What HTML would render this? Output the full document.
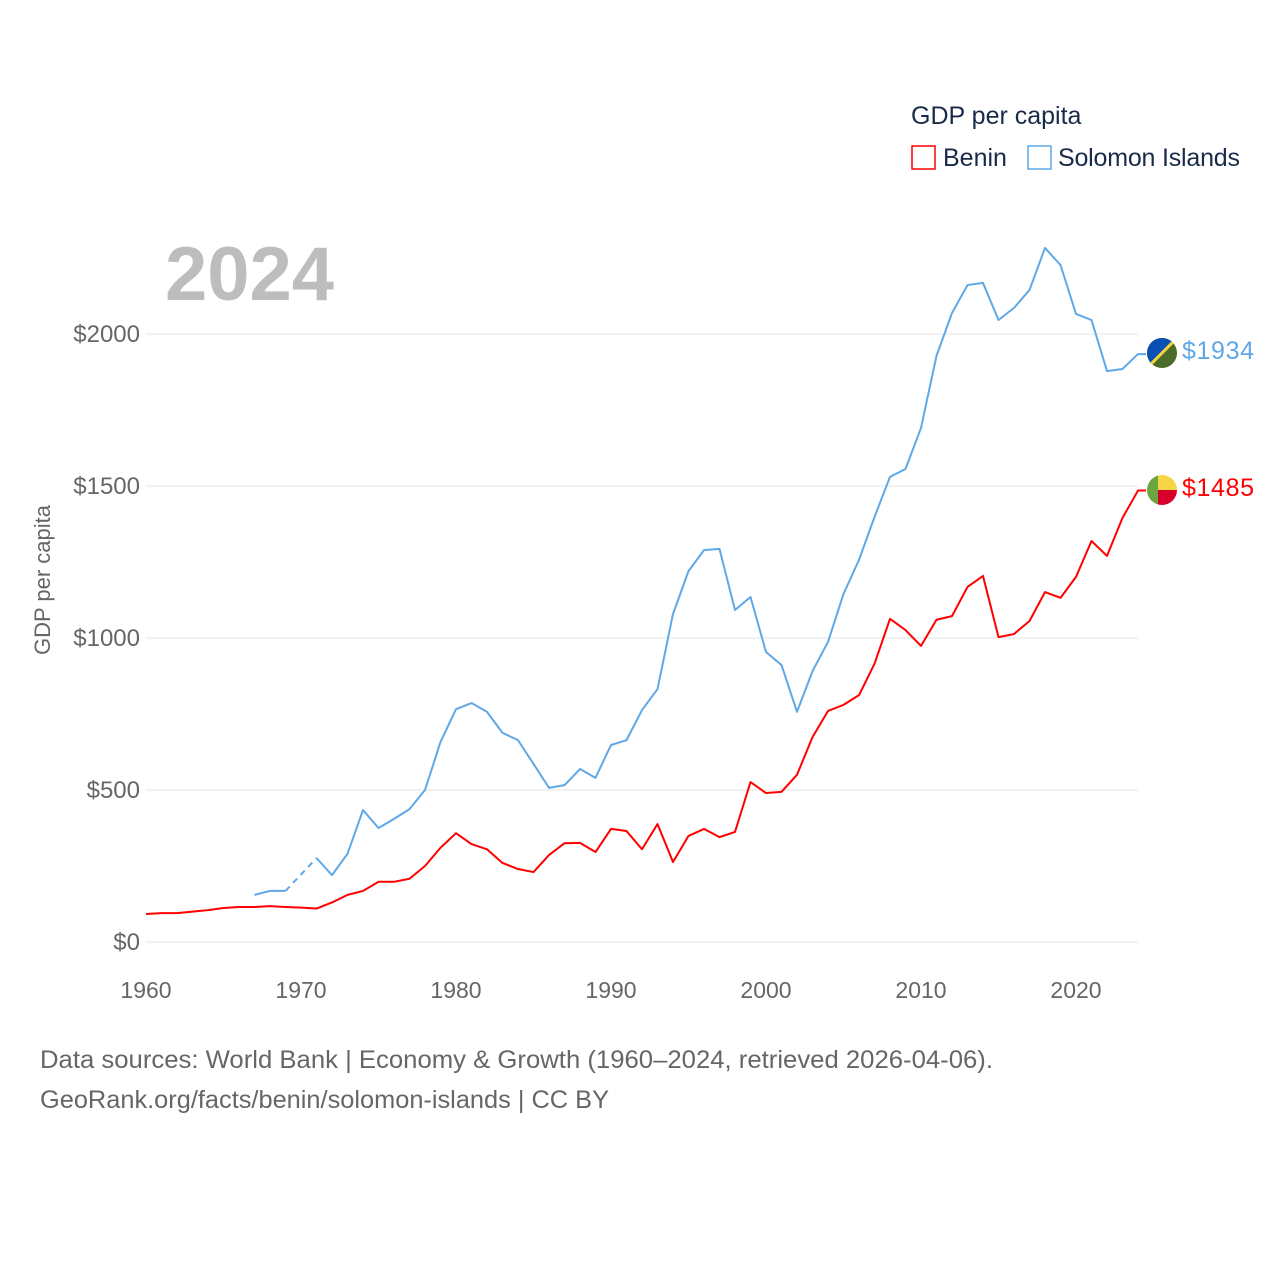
<!DOCTYPE html>
<html><head><meta charset="utf-8"><style>
body{margin:0;background:#fff;font-family:"Liberation Sans",sans-serif}
svg text{font-family:"Liberation Sans",sans-serif}
</style></head><body>
<svg id="chart" width="1280" height="1280" xmlns="http://www.w3.org/2000/svg">
<rect width="1280" height="1280" fill="#fff"/>
<g id="grid"></g>
<g id="yticks"></g>
<g id="xticks"></g>
<text x="50" y="580" font-size="22" fill="#666" transform="rotate(-90 50 580)" text-anchor="middle">GDP per capita</text>
<text x="165" y="300" font-size="76" font-weight="bold" fill="#bdbdbd">2024</text>
<g>
<text x="911" y="124" font-size="25" fill="#1a2b4a">GDP per capita</text>
<rect x="912" y="146" width="23" height="23" fill="none" stroke="#f00" stroke-width="1.5"/>
<text x="943" y="166" font-size="25" fill="#1a2b4a">Benin</text>
<rect x="1028" y="146" width="23" height="23" fill="none" stroke="#5fa8e8" stroke-width="1.5"/>
<text x="1058" y="166" font-size="25" fill="#1a2b4a" textLength="182">Solomon Islands</text>
</g>
<g id="series"></g>
<g>
<clipPath id="c1"><circle cx="1162" cy="353" r="15"/></clipPath>
<g clip-path="url(#c1)"><rect x="1146" y="337" width="32" height="32" fill="#4a6b2a"/><polygon points="1146,337 1178,337 1146,369" fill="#0a50b4"/><line x1="1178" y1="337" x2="1146" y2="369" stroke="#f5d43a" stroke-width="3"/></g>
</g>
<g>
<clipPath id="c2"><circle cx="1162" cy="490" r="15"/></clipPath>
<g clip-path="url(#c2)"><rect x="1146" y="474" width="12" height="32" fill="#6ea543"/><rect x="1158" y="474" width="20" height="16" fill="#f8d545"/><rect x="1158" y="490" width="20" height="16" fill="#d6002a"/></g>
</g>
<text x="1182" y="359" font-size="25" fill="#5fa8e8" textLength="72">$1934</text>
<text x="1182" y="496" font-size="25" fill="#f00" textLength="72">$1485</text>
<text x="40" y="1068" font-size="25" fill="#666" textLength="953" lengthAdjust="spacingAndGlyphs">Data sources: World Bank | Economy &amp; Growth (1960–2024, retrieved 2026-04-06).</text>
<text x="40" y="1108" font-size="25" fill="#666" textLength="569" lengthAdjust="spacingAndGlyphs">GeoRank.org/facts/benin/solomon-islands | CC BY</text>
</svg>
<script>
const years=[];for(let y=1960;y<=2024;y++)years.push(y);
const benin=[92,95,95,100,105,112,115,115,118,115,113,110,130,155,168,198,198,208,250,310,358,322,305,260,240,230,286,325,326,296,372,365,305,388,263,349,372,345,362,526,490,494,550,674,760,780,812,915,1063,1026,974,1060,1072,1168,1204,1003,1013,1056,1151,1132,1201,1319,1270,1395,1485];
const solomon=[null,null,null,null,null,null,null,155,168,168,null,276,220,290,434,375,405,437,500,658,766,786,757,688,664,586,507,516,569,540,648,664,763,832,1079,1220,1289,1293,1092,1135,954,911,757,891,987,1145,1257,1398,1530,1556,1691,1928,2069,2161,2168,2046,2086,2145,2283,2227,2066,2046,1878,1885,1934];
const yTicks=[0,500,1000,1500,2000];
const xTicks=[1960,1970,1980,1990,2000,2010,2020];
const X=y=>146+(y-1960)*15.5;
const Y=v=>942-v*0.304;
const NS='http://www.w3.org/2000/svg';
function mk(t,a,p){const e=document.createElementNS(NS,t);for(const k in a)e.setAttribute(k,a[k]);p.appendChild(e);return e;}
const grid=document.getElementById('grid'),yt=document.getElementById('yticks'),xt=document.getElementById('xticks'),ser=document.getElementById('series');
yTicks.forEach(v=>{
const l=mk('line',{x1:146,x2:1138,y1:Y(v),y2:Y(v),stroke:'#e6e6e6','stroke-width':1},grid);


const t=mk('text',{x:140,y:Y(v)+8,'font-size':24,fill:'#666','text-anchor':'end'},yt);t.textContent='$'+v;


});
xTicks.forEach(v=>{
const t=mk('text',{x:X(v),y:998,'font-size':23,fill:'#666','text-anchor':'middle'},xt);t.textContent=v;


});
function draw(vals,color,name){
let d='',prev=null;const dashes=[];
vals.forEach((v,i)=>{if(v==null)return;const p=[X(years[i]),Y(v)];
if(prev&&prev.i===i-1)d+='L'+p[0]+','+p[1];else{if(prev)dashes.push([prev.p,p]);d+='M'+p[0]+','+p[1];}
prev={i,p};});
d+='L'+(prev.p[0]+8)+','+prev.p[1];
const pa=mk('path',{d,fill:'none',stroke:color,'stroke-width':2,'stroke-linejoin':'round'},ser);


dashes.forEach(([a,b])=>{const l=mk('line',{x1:a[0],y1:a[1],x2:b[0],y2:b[1],stroke:color,'stroke-width':2,'stroke-dasharray':'6,5'},ser);

});
}
draw(solomon,'#5fa8e8','solomon-islands');
draw(benin,'#f00','benin');
</script>
</body></html>
